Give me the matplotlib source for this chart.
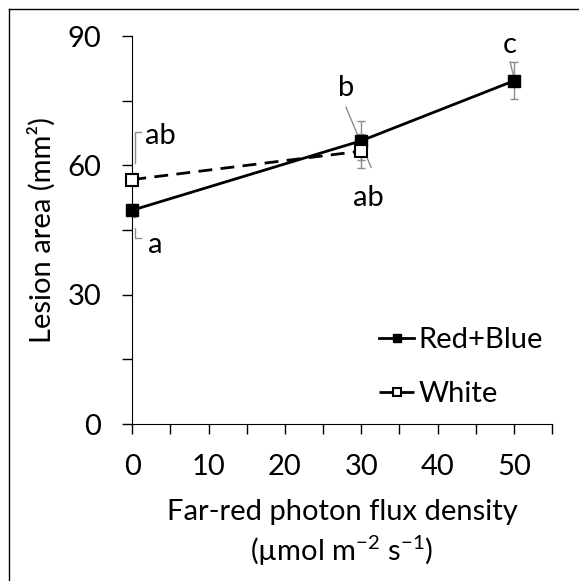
import numpy as np
import matplotlib
matplotlib.use("Agg")
import matplotlib.pyplot as plt
from matplotlib.lines import Line2D

plt.rcParams['font.family'] = ['Lato', 'DejaVu Sans']
plt.rcParams['mathtext.fontset'] = 'custom'
plt.rcParams['mathtext.rm'] = 'Lato'
plt.rcParams['mathtext.it'] = 'Lato'

# data
far_red = [0, 30, 50]
rb_area = [49.6, 65.7, 79.6]
rb_err = [1.5, 4.5, 4.3]
white_fr = [0, 30]
white_area = [56.7, 63.3]
white_err = [1.5, 4.0]

fs = 21
fig = plt.figure(figsize=(5.79, 5.81), dpi=100)
ax = fig.add_axes([0.2285, 0.2702, 0.7249, 0.6678])

gray = '#8c8c8c'
ax.errorbar(far_red, rb_area, yerr=rb_err, fmt='none', ecolor=gray, elinewidth=1, capsize=3, capthick=1, zorder=2)
ax.errorbar(white_fr, white_area, yerr=white_err, fmt='none', ecolor=gray, elinewidth=1, capsize=3, capthick=1, zorder=2)
ax.plot(far_red, rb_area, '-s', color='black', lw=2, ms=8, mfc='black', mec='black', label='Red+Blue',
        zorder=3, clip_on=False)
ax.plot(white_fr, white_area, '--s', color='black', lw=2, ms=8, mfc='white', mec='black', mew=1.5,
        dashes=(5, 3), label='White', zorder=3, clip_on=False)

ax.set_xlim(0, 55)
ax.set_ylim(0, 90)
ax.spines['top'].set_visible(False)
ax.spines['right'].set_visible(False)
ax.set_xticks(np.arange(0, 56, 5))
ax.set_xticklabels([str(v) if v % 10 == 0 else '' for v in range(0, 56, 5)])
ax.set_yticks(np.arange(0, 91, 15))
ax.set_yticklabels([str(v) if v % 30 == 0 else '' for v in range(0, 91, 15)])
ax.tick_params(direction='out', length=7.5, width=1, labelsize=fs)
ax.tick_params(axis='x', pad=14)
ax.tick_params(axis='y', pad=15)
ax.set_ylabel('Lesion area (mm²)', fontsize=fs, labelpad=8)
ax.set_xlabel('Far-red photon flux density\n(µmol m$^{-2}$ s$^{-1}$)', fontsize=fs, labelpad=14, linespacing=1.3)

# letters with leader lines
kw = dict(fontsize=fs, va='center', ha='left')
ax.text(1.7, 66.8, 'ab', **kw)
ax.plot([1.2, 0.4, 0.4], [67.8, 67.8, 60.5], color=gray, lw=1, clip_on=False)
ax.text(2.0, 41.5, 'a', **kw)
ax.plot([0.4, 0.4, 1.2], [45.5, 43.2, 43.2], color=gray, lw=1, clip_on=False)
ax.text(28.0, 78.0, 'b', ha='center', va='center', fontsize=fs)
ax.plot([28.0, 31.3], [73.5, 59.5], color=gray, lw=1)
ax.text(31.0, 52.5, 'ab', ha='center', va='center', fontsize=fs)
ax.text(49.5, 88.0, 'c', ha='center', va='center', fontsize=fs)
ax.plot([49.5, 50.0], [84.0, 80.5], color=gray, lw=1)

ax.legend(loc='upper left', bbox_to_anchor=(0.56, 0.28), frameon=False, fontsize=fs,
          handlelength=1.2, handletextpad=0.15, labelspacing=0.95, markerscale=0.8,
          borderaxespad=0)

# outer frame
fig.add_artist(Line2D([9/579, 9/579], [0, 1 - 9/581], transform=fig.transFigure, color='black', lw=1))
fig.add_artist(Line2D([9/579, 1], [1 - 9/581, 1 - 9/581], transform=fig.transFigure, color='black', lw=1))

fig.savefig('out.png', dpi=100)
